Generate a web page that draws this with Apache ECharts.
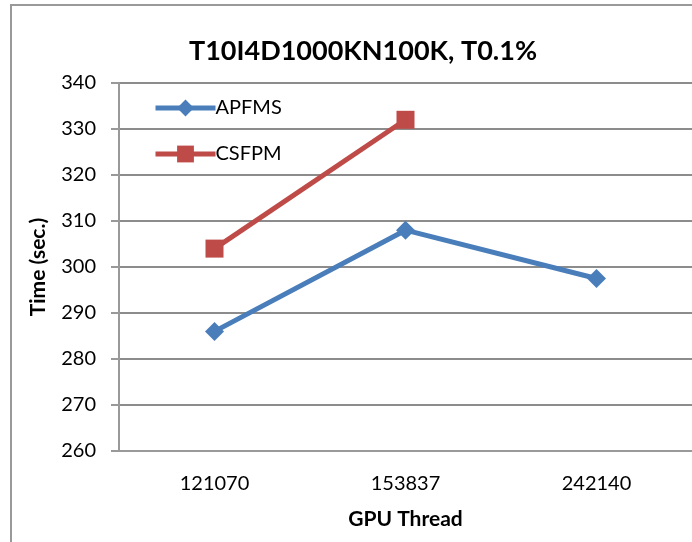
<!DOCTYPE html>
<html>
<head>
<meta charset="utf-8">
<script src="https://cdn.jsdelivr.net/npm/echarts@6/dist/echarts.min.js"></script>
<style>
  html, body { margin: 0; padding: 0; background: #fff; }
  #chart { width: 692px; height: 542px; }
</style>
</head>
<body>
<div id="chart"></div>
<script>
// 横轴类别 (GPU 线程数)
const threads = ['121070', '153837', '242140']
// 两组耗时数据 (秒)
const apfms = [286, 308, 297.5]
const csfpm = [304, 332, null]
// 纵轴刻度
const yMin = 260
const yMax = 340
const yStep = 10

const myChart = echarts.init(document.getElementById('chart'))

const font = 'Lato, "Open Sans", sans-serif'
const blue = '#4a7ebb'
const red = '#be4b48'

const option = {
    animation: false,
    backgroundColor: '#fff',
    title: {
        text: 'T10I4D1000KN100K, T0.1%',
        left: 358,
        top: 33,
        textAlign: 'center',
        textStyle: { fontFamily: font, fontSize: 27, fontWeight: 'bold', color: '#000' }
    },
    legend: {
        orient: 'vertical',
        left: 148,
        top: 93,
        itemGap: 26,
        itemWidth: 60,
        itemHeight: 21,
        textStyle: { fontFamily: font, fontSize: 20, color: '#000', padding: [0, 0, 0, -5] },
        data: [
            { name: 'APFMS', lineStyle: { width: 5, color: blue } },
            { name: 'CSFPM', lineStyle: { width: 5, color: red } }
        ]
    },
    grid: { left: 119, right: 0, top: 83, bottom: 91 },
    xAxis: {
        type: 'category',
        data: threads,
        name: 'GPU Thread',
        nameLocation: 'middle',
        nameGap: 58,
        nameTextStyle: { fontFamily: font, fontSize: 21, fontWeight: 'bold', color: '#000' },
        axisLine: { lineStyle: { color: '#999', width: 2 } },
        axisTick: { length: 7, lineStyle: { color: '#999', width: 2 } },
        axisLabel: { fontFamily: font, fontSize: 20, color: '#000', margin: 23 }
    },
    yAxis: {
        type: 'value',
        min: yMin,
        max: yMax,
        interval: yStep,
        name: 'Time (sec.)',
        nameLocation: 'middle',
        nameGap: 70,
        nameRotate: 90,
        nameTextStyle: { fontFamily: font, fontSize: 21, fontWeight: 'bold', color: '#000' },
        axisLine: { show: true, lineStyle: { color: '#999', width: 2 } },
        axisTick: { show: true, length: 8, lineStyle: { color: '#999', width: 2 } },
        axisLabel: { fontFamily: font, fontSize: 20, color: '#000', margin: 23 },
        splitLine: { lineStyle: { color: '#8c8c8c', width: 2 } }
    },
    series: [
        {
            name: 'APFMS',
            type: 'line',
            data: apfms,
            symbol: 'diamond',
            symbolSize: 19,
            lineStyle: { color: blue, width: 5 },
            itemStyle: { color: blue }
        },
        {
            name: 'CSFPM',
            type: 'line',
            data: csfpm,
            symbol: 'rect',
            symbolSize: 18,
            lineStyle: { color: red, width: 5 },
            itemStyle: { color: red }
        }
    ],
    graphic: [
        {
            type: 'rect',
            shape: { x: 11, y: 5, width: 700, height: 560 },
            style: { fill: 'none', stroke: '#999', lineWidth: 2 },
            silent: true
        }
    ]
}

myChart.setOption(option)

window.addEventListener('resize', () => {
    myChart.resize()
})
</script>
</body>
</html>
